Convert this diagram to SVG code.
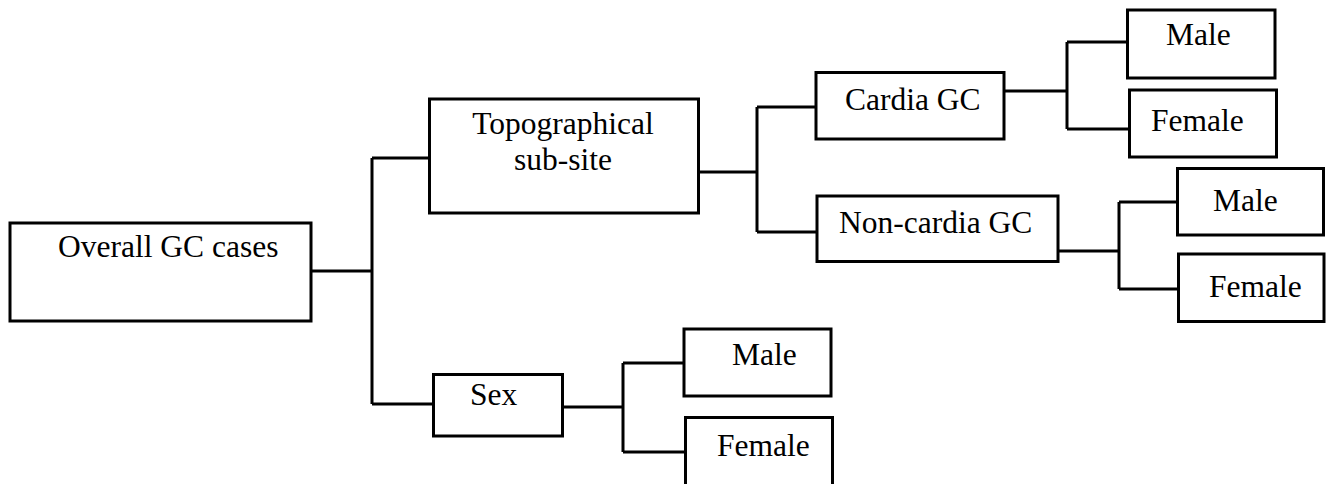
<svg xmlns="http://www.w3.org/2000/svg" width="1327" height="484" viewBox="0 0 1327 484">
<style>
.box{fill:#fff;stroke:#000;stroke-width:3}
.lbl{font-family:"Liberation Serif","Times New Roman",serif;font-size:31.5px;fill:#000}
.c{fill:none;stroke:#000;stroke-width:3}
</style>
<rect width="1327" height="484" fill="#fff"/>
<g id="connectors">
<path class="c" d="M311,271H372M372,158V404M372,158H429.5M372,404H433.5"/>
<path class="c" d="M698.5,172H757M757,107V232M757,107H816M757,232H817"/>
<path class="c" d="M1004,91H1067M1067,42V129M1067,42H1127.5M1067,129H1129.5"/>
<path class="c" d="M1058,251H1119M1119,202V289M1119,202H1177.5M1119,289H1178.5"/>
<path class="c" d="M562.5,407H623M623,363V452M623,363H684M623,452H685.5"/>
</g>
<g id="overall"><rect class="box" x="10" y="223" width="301" height="98"/><text class="lbl" x="58" y="257">Overall GC cases</text></g>
<g id="topo"><rect class="box" x="429.5" y="99" width="269" height="114"/><text class="lbl" x="563" y="134" text-anchor="middle">Topographical</text><text class="lbl" x="563" y="170" text-anchor="middle">sub-site</text></g>
<g id="sex"><rect class="box" x="433.5" y="374.5" width="129" height="61.5"/><text class="lbl" x="470" y="405">Sex</text></g>
<g id="cardia"><rect class="box" x="816" y="72.5" width="188" height="66.5"/><text class="lbl" x="845" y="110">Cardia GC</text></g>
<g id="noncardia"><rect class="box" x="817" y="196" width="241" height="65.5"/><text class="lbl" x="839" y="233">Non-cardia GC</text></g>
<g id="cardia-male"><rect class="box" x="1127.5" y="10" width="147.5" height="68"/><text class="lbl" x="1166" y="45">Male</text></g>
<g id="cardia-female"><rect class="box" x="1129.5" y="90" width="147" height="67"/><text class="lbl" x="1151" y="131">Female</text></g>
<g id="noncardia-male"><rect class="box" x="1177.5" y="168.5" width="146" height="66.5"/><text class="lbl" x="1213" y="211">Male</text></g>
<g id="noncardia-female"><rect class="box" x="1178.5" y="254" width="145.5" height="67.5"/><text class="lbl" x="1209" y="297">Female</text></g>
<g id="sex-male"><rect class="box" x="684" y="329" width="147" height="67"/><text class="lbl" x="732" y="365">Male</text></g>
<g id="sex-female"><rect class="box" x="685.5" y="417.5" width="147" height="72"/><text class="lbl" x="717" y="456">Female</text></g>
</svg>
